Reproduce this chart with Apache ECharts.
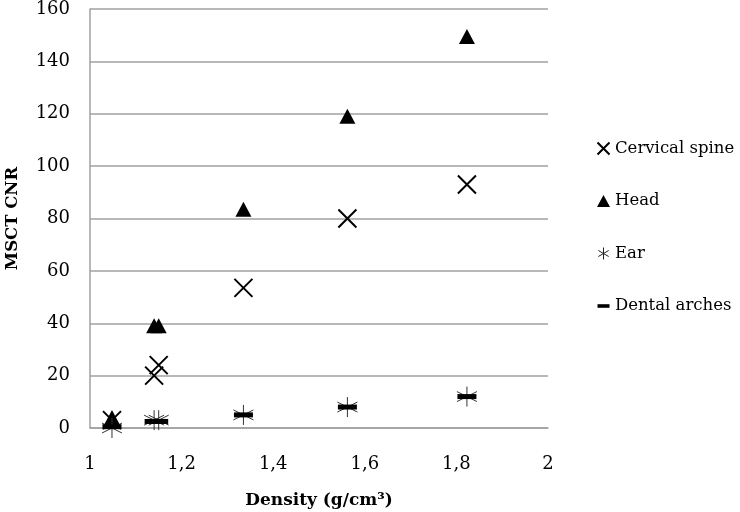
<!DOCTYPE html>
<html>
<head>
<meta charset="utf-8">
<script src="https://cdn.jsdelivr.net/npm/echarts@6/dist/echarts.min.js"></script>
<style>html,body{margin:0;padding:0;background:#fff;}#c{width:740px;height:512px;}</style>
</head>
<body>
<div id="c"></div>
<script>
var xTicks = ['1', '1,2', '1,4', '1,6', '1,8', '2'];
var yTicks = [0, 20, 40, 60, 80, 100, 120, 140, 160];
var cervicalSpine = [[1.048, 3], [1.14, 20], [1.15, 24], [1.335, 53.5], [1.562, 80], [1.823, 93]];
var head = [[1.048, 4], [1.14, 39], [1.15, 39], [1.335, 83.5], [1.562, 119], [1.823, 149.5]];
var ear = [[1.048, 0], [1.14, 3], [1.15, 3], [1.335, 5], [1.562, 8], [1.823, 12]];
var dentalArches = [[1.048, 0.5], [1.14, 2.5], [1.15, 2.5], [1.335, 5], [1.562, 8], [1.823, 12]];

var FONT = 'DejaVu Serif';
var xPath = 'path://M0,0L10,10M10,0L0,10';
var astPath = 'path://M5,0L5,10M0.7,2.5L9.3,7.5M9.3,2.5L0.7,7.5';
var dashIcon = 'path://M0,0M0,3.5h10v3h-10zM10,10';

var chart = echarts.init(document.getElementById('c'));
chart.setOption({
  animation: false,
  backgroundColor: '#fff',
  grid: { left: 90, right: 192, top: 9, bottom: 84, containLabel: false, outerBoundsMode: 'none' },
  xAxis: {
    type: 'value', min: 1, max: 2, interval: 0.2,
    name: 'Density (g/cm³)', nameLocation: 'middle', nameGap: 64,
    nameTextStyle: { fontFamily: FONT, fontWeight: 'bold', fontSize: 17, color: '#000' },
    axisLine: { show: true, lineStyle: { color: '#a0a0a0', width: 1.5 } },
    axisTick: { show: false },
    splitLine: { show: false },
    axisLabel: {
      margin: 27, fontFamily: FONT, fontSize: 18, color: '#000',
      formatter: function (v) { return xTicks[Math.round((v - 1) / 0.2)]; }
    }
  },
  yAxis: {
    type: 'value', min: 0, max: 160, interval: 20,
    name: 'MSCT CNR', nameLocation: 'middle', nameGap: 69, nameRotate: 90,
    nameTextStyle: { fontFamily: FONT, fontWeight: 'bold', fontSize: 16.5, color: '#000' },
    axisLine: { show: true, lineStyle: { color: '#a0a0a0', width: 1.5 } },
    axisTick: { show: false },
    splitLine: { show: true, lineStyle: { color: '#a0a0a0', width: 1.5 } },
    axisLabel: {
      margin: 20, fontFamily: FONT, fontSize: 18, color: '#000',
      formatter: function (v) { return yTicks.indexOf(v) >= 0 ? String(v) : ''; }
    }
  },
  legend: {
    orient: 'vertical', left: 595, top: 140, itemGap: 35.5, padding: 0,
    itemWidth: 13, itemHeight: 12,
    textStyle: { fontFamily: FONT, fontSize: 16.5, color: '#000' },
    data: [
      { name: 'Cervical spine', icon: xPath, itemStyle: { color: 'none', borderColor: '#000', borderWidth: 2, opacity: 1 } },
      { name: 'Head', icon: 'triangle', itemStyle: { color: '#000', opacity: 1 } },
      { name: 'Ear', icon: astPath, itemStyle: { color: 'none', borderColor: '#222', borderWidth: 1, opacity: 1 } },
      { name: 'Dental arches', icon: dashIcon, itemStyle: { color: '#000', opacity: 1 } }
    ]
  },
  series: [
    { name: 'Cervical spine', type: 'scatter', data: cervicalSpine, symbol: xPath, symbolSize: 18,
      itemStyle: { color: 'none', borderColor: '#000', borderWidth: 2, opacity: 1 } },
    { name: 'Head', type: 'scatter', data: head, symbol: 'triangle', symbolSize: [16, 15],
      itemStyle: { color: '#000', opacity: 1 } },
    { name: 'Ear', type: 'scatter', data: ear, symbol: astPath, symbolSize: 20,
      itemStyle: { color: 'none', borderColor: '#333', borderWidth: 1, opacity: 1 } },
    { name: 'Dental arches', type: 'scatter', data: dentalArches, symbol: 'rect', symbolSize: [19, 5],
      itemStyle: { color: '#000', opacity: 1 } }
  ]
});
</script>
</body>
</html>
